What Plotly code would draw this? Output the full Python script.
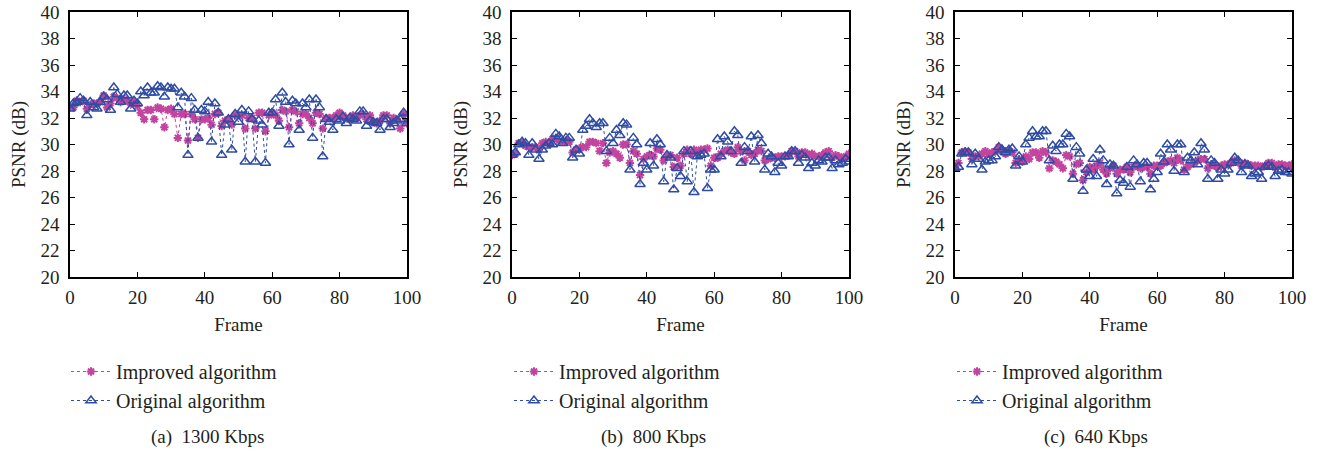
import plotly.graph_objects as go

frames = list(range(0, 101))

orig_a = [32.7, 33.1, 33.2, 33.5, 33.3, 32.2, 33.2, 32.8, 32.7, 33.2,
          33.6, 33.4, 32.6, 34.3, 33.8, 33.2, 33.7, 33.7, 32.7, 33.3,
          33.1, 34.0, 33.7, 34.3, 33.9, 33.9, 34.4, 34.3, 33.6, 34.3,
          34.2, 34.2, 32.8, 33.9, 33.6, 29.2, 33.5, 32.6, 30.5, 32.6,
          32.5, 33.2, 30.2, 33.1, 32.4, 29.2, 31.5, 31.9, 29.6, 32.3,
          31.7, 32.6, 28.7, 32.5, 31.9, 28.7, 31.8, 31.5, 28.6, 32.4,
          32.4, 33.4, 31.4, 33.9, 33.2, 30.0, 33.3, 33.1, 31.1, 33.1,
          32.8, 33.4, 30.5, 33.4, 32.8, 29.1, 31.9, 31.7, 31.1, 31.9,
          31.8, 32.1, 31.6, 32.0, 31.9, 31.8, 32.5, 32.5, 31.4, 31.8,
          31.7, 31.6, 31.1, 31.9, 31.9, 31.3, 31.6, 31.8, 31.9, 32.4,
          31.6]
impr_a = [32.8, 32.8, 33.3, 33.2, 33.3, 32.7, 33.0, 33.1, 33.1, 33.2,
          33.7, 32.8, 33.1, 33.6, 33.5, 33.2, 33.4, 33.3, 33.1, 33.2,
          32.9, 32.4, 31.9, 32.6, 32.6, 31.9, 32.8, 32.7, 31.3, 32.6,
          32.7, 32.3, 30.5, 32.3, 32.3, 30.3, 32.3, 31.9, 30.5, 31.9,
          31.9, 32.0, 31.5, 32.3, 32.4, 31.4, 31.8, 31.9, 31.5, 32.2,
          32.2, 32.2, 31.2, 32.0, 32.0, 31.2, 32.4, 32.4, 31.0, 32.2,
          32.4, 32.2, 31.8, 32.6, 32.5, 31.3, 32.6, 32.5, 31.6, 32.3,
          32.3, 32.0, 31.6, 32.4, 32.3, 31.2, 32.0, 32.0, 32.0, 32.2,
          32.4, 32.2, 32.0, 31.9, 32.2, 32.0, 32.2, 32.3, 31.9, 32.2,
          31.7, 31.6, 31.8, 32.2, 32.2, 31.6, 32.0, 31.9, 31.2, 32.3,
          31.6]

orig_b = [29.2, 29.4, 30.0, 30.2, 30.1, 29.2, 30.1, 29.6, 28.9, 29.6,
          29.9, 30.1, 30.0, 30.8, 30.6, 30.1, 30.5, 30.5, 29.0, 29.6,
          29.3, 31.1, 31.4, 31.9, 31.6, 31.3, 31.6, 31.6, 29.5, 30.5,
          30.1, 31.1, 30.7, 31.6, 31.5, 28.1, 30.5, 30.0, 27.0, 28.6,
          28.1, 30.1, 28.4, 30.4, 30.0, 27.2, 29.2, 29.0, 26.6, 28.2,
          27.6, 29.5, 27.2, 29.5, 26.4, 29.1, 29.2, 29.3, 26.7, 28.1,
          28.1, 30.4, 29.1, 30.6, 30.2, 29.5, 31.0, 30.7, 28.6, 29.8,
          29.5, 30.6, 28.7, 30.7, 30.1, 28.1, 29.3, 29.1, 27.9, 28.6,
          28.4, 29.1, 29.1, 29.5, 29.5, 28.6, 29.2, 29.0, 28.2, 28.6,
          28.4, 28.8, 28.7, 29.0, 29.0, 28.2, 28.8, 28.5, 28.6, 28.9,
          28.7]
impr_b = [29.2, 29.3, 30.1, 30.1, 29.9, 29.8, 29.8, 29.8, 29.6, 30.1,
          30.2, 30.1, 30.4, 30.5, 30.3, 30.2, 30.3, 30.2, 29.4, 29.6,
          29.7, 29.8, 29.8, 30.2, 30.2, 30.1, 29.5, 30.1, 28.6, 29.4,
          29.5, 29.3, 29.0, 30.0, 30.0, 28.6, 29.5, 29.3, 27.7, 28.9,
          29.1, 29.2, 29.1, 29.7, 29.6, 28.8, 29.1, 29.2, 28.3, 29.0,
          28.4, 29.3, 29.6, 29.3, 29.6, 29.4, 29.6, 29.6, 29.7, 28.4,
          29.0, 29.0, 29.3, 29.5, 29.6, 29.4, 29.3, 29.8, 29.5, 28.8,
          29.5, 29.2, 29.3, 29.6, 29.5, 28.8, 28.9, 29.0, 29.0, 29.1,
          29.1, 29.1, 29.2, 29.5, 29.5, 29.1, 29.4, 29.4, 29.2, 29.3,
          29.1, 29.1, 29.2, 29.4, 29.5, 29.0, 29.2, 29.1, 28.9, 29.1,
          29.3]

orig_c = [28.2, 28.3, 29.3, 29.4, 29.4, 28.5, 29.3, 28.9, 28.1, 28.7,
          28.8, 28.8, 29.1, 29.8, 29.6, 29.4, 29.6, 29.7, 28.4, 29.1,
          28.7, 30.0, 30.5, 31.0, 30.6, 30.6, 31.0, 31.0, 28.8, 29.9,
          29.5, 30.0, 30.0, 30.8, 30.6, 27.4, 29.8, 29.3, 26.5, 28.1,
          27.6, 28.9, 27.6, 29.6, 28.8, 27.0, 28.5, 28.4, 26.3, 27.3,
          27.1, 28.3, 26.8, 28.8, 28.5, 27.2, 28.6, 28.6, 26.6, 27.4,
          27.9, 29.3, 28.7, 30.0, 29.6, 28.0, 30.0, 30.0, 27.9, 29.0,
          28.8, 29.4, 28.5, 30.1, 29.6, 27.4, 28.8, 28.6, 27.4, 28.1,
          27.8, 28.1, 28.6, 29.0, 28.8, 27.9, 28.5, 28.4, 27.6, 27.8,
          27.9, 27.4, 28.3, 28.4, 28.3, 27.6, 28.0, 28.1, 27.9, 27.9,
          27.8]
impr_c = [28.3, 28.6, 29.4, 29.5, 29.4, 28.9, 29.1, 29.1, 29.3, 29.5,
          29.3, 29.4, 29.5, 29.8, 29.5, 29.3, 29.5, 29.4, 28.6, 28.9,
          28.7, 29.1, 28.9, 29.4, 29.4, 29.0, 29.5, 29.4, 28.2, 28.8,
          28.7, 28.5, 28.2, 29.2, 29.1, 27.8, 28.5, 28.6, 27.3, 27.9,
          28.3, 28.1, 28.4, 28.6, 28.1, 27.8, 28.2, 28.4, 27.8, 28.1,
          28.1, 28.3, 27.9, 28.3, 28.4, 28.2, 28.3, 28.3, 27.8, 28.4,
          28.4, 28.4, 28.6, 28.7, 28.8, 28.6, 29.0, 28.8, 28.1, 28.3,
          28.5, 28.6, 28.8, 28.9, 28.9, 28.2, 28.5, 28.4, 28.3, 28.4,
          28.5, 28.5, 28.6, 28.8, 28.7, 28.4, 28.6, 28.5, 28.4, 28.4,
          28.4, 28.3, 28.4, 28.6, 28.6, 28.3, 28.5, 28.5, 28.4, 28.4,
          28.5]

series_names = ["Improved algorithm", "Original algorithm"]
captions = ["(a)  1300 Kbps", "(b)  800 Kbps", "(c)  640 Kbps"]
y_ticks = list(range(20, 41, 2))
x_ticks = list(range(0, 101, 20))

W, H = 1324, 454
FONT = "Liberation Serif"
MAG = "#C2449E"
BLUE = "#2E4CA3"
TXT = "#231F20"

# pixel layout (page coordinates)
x_dom_px = [(70, 407), (512, 849), (955, 1292)]
y_top, y_bot = 12, 277
legend_x_px = [66, 509, 952]
caption_x_px = [207, 653, 1096]


def px_x(p):
    return p / W


def px_y(p):
    return 1 - p / H


fig = go.Figure()
data = [(impr_a, orig_a), (impr_b, orig_b), (impr_c, orig_c)]
for i, (imp, org) in enumerate(data):
    ax = "" if i == 0 else str(i + 1)
    leg = "legend" if i == 0 else "legend" + str(i + 1)
    fig.add_trace(go.Scatter(
        x=frames, y=imp, name=series_names[0], mode="lines+markers",
        xaxis="x" + ax, yaxis="y" + ax, legend=leg,
        line=dict(color=MAG, width=1, dash="dot"),
        marker=dict(symbol="asterisk-open", size=7, color=MAG,
                    line=dict(color=MAG, width=2)),
    ))
    fig.add_trace(go.Scatter(
        x=frames, y=org, name=series_names[1], mode="lines+markers",
        xaxis="x" + ax, yaxis="y" + ax, legend=leg,
        line=dict(color=BLUE, width=1, dash="dot"),
        marker=dict(symbol="triangle-up-open", size=9, color=BLUE,
                    line=dict(color=BLUE, width=1.5)),
    ))

layout = dict(
    width=W, height=H,
    margin=dict(l=0, r=0, t=0, b=0, autoexpand=False),
    paper_bgcolor="white", plot_bgcolor="white",
    font=dict(family=FONT, size=17, color=TXT),
    showlegend=True,
)
axis_common = dict(
    showline=True, linecolor="black", linewidth=1.5, mirror="ticks",
    ticks="inside", ticklen=5, tickcolor="black", tickwidth=1,
    showgrid=False, zeroline=False, automargin=False,
    ticklabeloverflow="allow",
    tickfont=dict(family=FONT, size=19, color=TXT),
)
for i in range(3):
    ax = "" if i == 0 else str(i + 1)
    x0, x1 = x_dom_px[i]
    layout["xaxis" + ax] = dict(
        axis_common, domain=[px_x(x0), px_x(x1)], range=[0, 100],
        tickvals=x_ticks, anchor="y" + ax, ticklabelstandoff=2,
        title=dict(text="Frame", font=dict(family=FONT, size=19, color=TXT), standoff=11),
    )
    layout["yaxis" + ax] = dict(
        axis_common, domain=[px_y(y_bot), px_y(y_top)], range=[20, 40],
        tickvals=y_ticks, anchor="x" + ax, ticklabelstandoff=5,
        title=dict(text="PSNR (dB)", font=dict(family=FONT, size=19, color=TXT), standoff=10),
    )
    leg = "legend" if i == 0 else "legend" + str(i + 1)
    layout[leg] = dict(
        x=px_x(legend_x_px[i]), y=px_y(352), xanchor="left", yanchor="top",
        bgcolor="rgba(0,0,0,0)", font=dict(family=FONT, size=20, color=TXT),
        itemwidth=40, tracegroupgap=0,
    )

fig.update_layout(**layout)

for i in range(3):
    fig.add_annotation(
        x=px_x(caption_x_px[i]), y=px_y(437), xref="paper", yref="paper",
        text=captions[i], showarrow=False, xanchor="center", yanchor="middle",
        font=dict(family=FONT, size=19, color=TXT),
    )

fig.write_html("out.html", config={"displayModeBar": False},
               post_script="document.body.style.margin='0';document.body.style.padding='0';")
